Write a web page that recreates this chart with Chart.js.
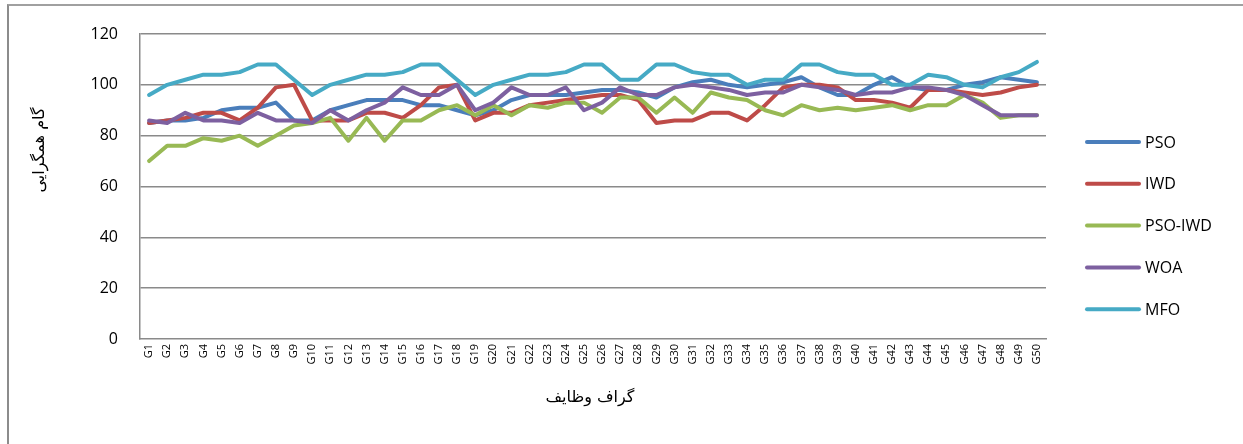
<!DOCTYPE html>
<html>
<head>
<meta charset="utf-8">
<script src="https://cdn.jsdelivr.net/npm/chart.js@4.4.1/dist/chart.umd.min.js"></script>
<style>
    html, body { margin: 0; padding: 0; background: #fff; }
    #wrap { position: relative; width: 1243px; height: 444px; overflow: hidden; }
    #frame {
        position: absolute; left: 7px; top: 4px; width: 1300px; height: 500px;
        border-left: 2px solid #8c8c8c; border-top: 2px solid #a0a0a0;
    }
    canvas { position: absolute; left: 0; top: 0; }
</style>
</head>
<body>
<div id="wrap">
    <div id="frame"></div>
    <canvas id="chart" width="1243" height="444"></canvas>
</div>
<script>
const graphs = [];
for (let i = 1; i <= 50; i++) graphs.push('G' + i);

const psoSteps = [85, 86, 86, 87, 90, 91, 91, 93, 86, 86, 90, 92, 94, 94, 94, 92, 92, 90, 88, 90,
    94, 96, 96, 96, 97, 98, 98, 97, 95, 99, 101, 102, 100, 99, 100, 101, 103, 99, 96, 96,
    100, 103, 99, 98, 98, 100, 101, 103, 102, 101];
const iwdSteps = [85, 86, 87, 89, 89, 86, 91, 99, 100, 86, 86, 86, 89, 89, 87, 92, 99, 100, 86, 89,
    89, 92, 93, 94, 95, 96, 96, 94, 85, 86, 86, 89, 89, 86, 92, 99, 100, 100, 99, 94,
    94, 93, 91, 98, 98, 97, 96, 97, 99, 100];
const psoIwdSteps = [70, 76, 76, 79, 78, 80, 76, 80, 84, 85, 87, 78, 87, 78, 86, 86, 90, 92, 88, 92,
    88, 92, 91, 93, 93, 89, 95, 95, 89, 95, 89, 97, 95, 94, 90, 88, 92, 90, 91, 90,
    91, 92, 90, 92, 92, 96, 93, 87, 88, 88];
const woaSteps = [86, 85, 89, 86, 86, 85, 89, 86, 86, 85, 90, 86, 90, 93, 99, 96, 96, 100, 90, 93,
    99, 96, 96, 99, 90, 93, 99, 96, 96, 99, 100, 99, 98, 96, 97, 97, 100, 99, 98, 96,
    97, 97, 99, 99, 98, 96, 92, 88, 88, 88];
const mfoSteps = [96, 100, 102, 104, 104, 105, 108, 108, 102, 96, 100, 102, 104, 104, 105, 108, 108, 102, 96, 100,
    102, 104, 104, 105, 108, 108, 102, 102, 108, 108, 105, 104, 104, 100, 102, 102, 108, 108, 105, 104,
    104, 100, 100, 104, 103, 100, 99, 103, 105, 109];

const seriesNames = ['PSO', 'IWD', 'PSO-IWD', 'WOA', 'MFO'];
const seriesColors = ['#4a7ebb', '#be4b48', '#98b954', '#7d60a0', '#46aac5'];
const seriesData = [psoSteps, iwdSteps, psoIwdSteps, woaSteps, mfoSteps];

const yTitle = 'گام همگرایی';
const xTitle = 'گراف وظایف';

// legend + persian axis titles drawn by hand, Excel-like placement
const extras = {
    id: 'extras',
    afterDraw(chart) {
        const ctx = chart.ctx;
        ctx.save();
        ctx.fillStyle = '#000';
        ctx.font = '16px "DejaVu Sans", "Noto Sans", sans-serif';
        ctx.textAlign = 'center';
        ctx.textBaseline = 'middle';
        ctx.fillText(xTitle, 590, 398);
        ctx.translate(40, 150);
        ctx.rotate(-Math.PI / 2);
        ctx.fillText(yTitle, 0, 0);
        ctx.restore();

        ctx.save();
        seriesNames.forEach((name, i) => {
            const y = 142 + i * 41.8;
            ctx.strokeStyle = seriesColors[i];
            ctx.lineWidth = 4;
            ctx.lineCap = 'round';
            ctx.beginPath();
            ctx.moveTo(1087, y);
            ctx.lineTo(1139, y);
            ctx.stroke();
            ctx.fillStyle = '#000';
            ctx.font = '16px "Open Sans", sans-serif';
            ctx.textAlign = 'left';
            ctx.textBaseline = 'middle';
            ctx.fillText(name, 1145, y + 1);
        });
        ctx.restore();
    }
};

new Chart(document.getElementById('chart'), {
    type: 'line',
    data: {
        labels: graphs,
        datasets: seriesData.map((d, i) => ({
            label: seriesNames[i],
            data: d,
            borderColor: seriesColors[i],
            backgroundColor: seriesColors[i],
            borderWidth: 4,
            pointRadius: 0,
            tension: 0,
            borderJoinStyle: 'round',
            borderCapStyle: 'round',
            order: 5 - i
        }))
    },
    options: {
        responsive: false,
        animation: false,
        layout: { padding: { left: 20, top: 34, right: 197, bottom: 4 } },
        plugins: { legend: { display: false }, tooltip: { enabled: false } },
        scales: {
            x: {
                offset: true,
                grid: { display: false, drawTicks: false },
                border: { display: true, color: '#8a8a8a', width: 1.5 },
                ticks: {
                    autoSkip: false,
                    minRotation: 90,
                    maxRotation: 90,
                    padding: 5,
                    color: '#000',
                    font: { family: 'Open Sans', size: 11 }
                },
                afterFit(s) { s.height = 101; }
            },
            y: {
                min: 0,
                max: 120,
                grid: {
                    color: ctx => ctx.tick.value === 0 ? 'rgba(0,0,0,0)' : '#8a8a8a',
                    lineWidth: 1.5,
                    drawTicks: false
                },
                border: { display: true, color: '#8a8a8a', width: 1.5 },
                ticks: {
                    stepSize: 20,
                    padding: 22,
                    color: '#000',
                    font: { family: 'Open Sans', size: 16 }
                },
                afterFit(s) { s.width = 120; }
            }
        }
    },
    plugins: [extras]
});
</script>
</body>
</html>
